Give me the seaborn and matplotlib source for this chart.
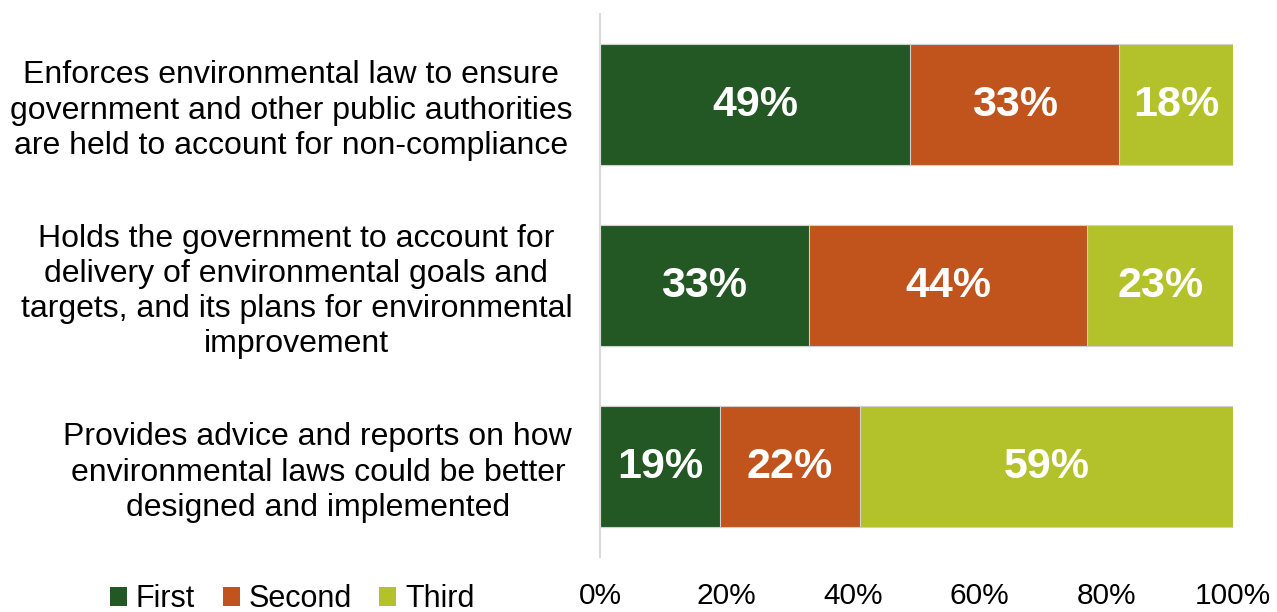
import matplotlib
matplotlib.use("Agg")
import matplotlib.pyplot as plt
from matplotlib.patches import Patch
import numpy as np
import pandas as pd
import seaborn as sns

categories = [
    "Enforces environmental law to ensure\ngovernment and other public authorities\nare held to account for non-compliance",
    "Holds the government to account for\ndelivery of environmental goals and\ntargets, and its plans for environmental\nimprovement",
    "Provides advice and reports on how\nenvironmental laws could be better\ndesigned and implemented",
]
series = ["First", "Second", "Third"]
first = [49, 33, 19]
second = [33, 44, 22]
third = [18, 23, 59]
xticks = [0, 20, 40, 60, 80, 100]
colors = {"First": "#235723", "Second": "#C0541C", "Third": "#B3C22A"}

sns.set_theme(style="white")
plt.rcParams["font.family"] = ["Liberation Sans", "DejaVu Sans"]

values = np.array([first, second, third])
cum = np.cumsum(values, axis=0)
starts = cum - values

rows = []
for si, s in enumerate(series):
    for ci, c in enumerate(categories):
        rows.append({"category": c, "series": s, "value": values[si, ci],
                     "start": starts[si, ci], "end": cum[si, ci]})
df = pd.DataFrame(rows)

W, H = 1277, 612
fig = plt.figure(figsize=(W / 100, H / 100), dpi=100)
ax = fig.add_axes([600 / W, 1 - 557 / H, (1233 - 600) / W, (557 - 14) / H])

# stacked bars: draw cumulative totals from the outermost segment inwards
sns.barplot(data=df, y="category", x="end", hue="series",
            hue_order=series[::-1], order=categories, palette=colors,
            dodge=False, width=0.67, orient="y", ax=ax,
            edgecolor="#d0d0d0", linewidth=0.8, saturation=1, legend=False)

for _, r in df.iterrows():
    ci = categories.index(r["category"])
    ax.text(r["start"] + r["value"] / 2, ci, f"{r['value']}%",
            ha="center", va="center", color="white",
            fontsize=31, fontweight="bold")

ax.set_xlim(0, 100)
ax.set_ylim(2.5, -0.5)
ax.set_xticks(xticks)
ax.set_xticklabels([f"{t}%" for t in xticks], fontsize=21.5, color="black")
ax.tick_params(axis="x", length=0, pad=18)
ax.tick_params(axis="y", length=0, pad=20, labelsize=23, labelcolor="black")
for lbl in ax.get_yticklabels():
    lbl.set_multialignment("center")
    lbl.set_linespacing(1.22)
ax.set_xlabel("")
ax.set_ylabel("")
for side in ["top", "right", "bottom"]:
    ax.spines[side].set_visible(False)
ax.spines["left"].set_color("#d9d9d9")
ax.spines["left"].set_linewidth(1.5)
ax.grid(False)

handles = [Patch(facecolor=colors[s], edgecolor="none") for s in series]
fig.legend(handles, series, loc="center left",
           bbox_to_anchor=(110 / W, 1 - 599 / H), ncol=3, frameon=False,
           fontsize=22, handlelength=0.55, handleheight=0.56,
           handletextpad=0.3, columnspacing=0.9, borderaxespad=0,
           borderpad=0, labelcolor="black")

fig.savefig("out.png", dpi=100)
